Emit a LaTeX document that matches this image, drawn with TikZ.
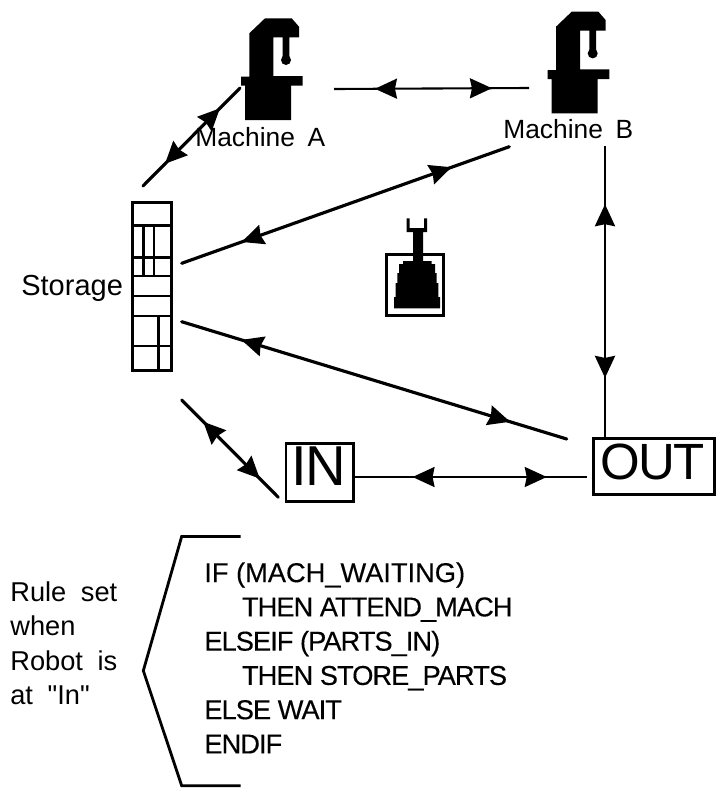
\documentclass[tikz,border=0pt]{standalone}
\usepackage{fontspec}
\setmainfont[Ligatures=TeXOff]{Liberation Sans}
\newfontfamily\rulefont[LetterSpace=-3.5,FakeBold=0.3]{Liberation Sans}
\newfontfamily\rulefontwide[FakeBold=0.3]{Liberation Sans}
\usetikzlibrary{arrows.meta,decorations.markings}
\tikzset{
  head/.tip={Stealth[length=4.4mm,width=4mm,inset=0.4mm]},
  twoway/.style 2 args={postaction={decorate,decoration={markings,
      mark=at position #1 with {\arrowreversed{head}},
      mark=at position #2 with {\arrow{head}}}}},
  link/.style={line width=1.8pt,line cap=round},
  thinlink/.style={line width=1.2pt},
  lab/.style={inner sep=0pt,anchor=base west,font=\fontsize{15}{19.5}\selectfont},
  framebox/.style={draw,line width=1.5pt,inner sep=0pt,outer sep=0pt,anchor=north west},
  pics/machine/.style={code={
    \fill (24,0) -- (50.7,0) -- (58,8.4) -- (58,19) -- (48.3,19) -- (48.3,38.4) -- (41.7,38.4)
      -- (41.7,19) -- (32.3,19) -- (32.3,57.7) -- (61.7,57.7) -- (61.7,67.4) -- (50,67.4)
      -- (50,101.7) -- (4,101.7) -- (4,67.4) -- (0,67.4) -- (0,58.4) -- (8.3,58.4) -- (8.3,15) -- cycle;
    \fill (45,41.7) circle (5);
  }}
}

\begin{document}
\begin{tikzpicture}[x=0.02cm,y=-0.02cm]
    \useasboundingbox (0,0) rectangle (717,795);

    % machines
    \pic (machA) at (241,18.3) {machine};
    \pic (machB) at (547.7,11.7) {machine};
    \node[lab] (labA) at (195,146.7) {Machine\hspace{3pt} A};
    \node[lab] (labB) at (503,138.3) {Machine\hspace{3pt} B};

    % storage rack
    \node[framebox,minimum width=0.78cm,minimum height=3.36cm] (storage) at (132.7,202.7) {};
    \foreach \y in {225.7,257.7,276,316,346}
      \draw[line width=1.4pt] (132.7,\y) -- (171.7,\y);
    \draw[line width=0.8pt] (132.7,296) -- (171.7,296);
    \foreach \x in {143.3,154}
      \draw[line width=1.4pt] (\x,225.7) -- (\x,276);
    \draw[line width=1.4pt] (158.3,316) -- (158.3,370.7);
    \node[lab,font=\fontsize{16.5}{19.5}\selectfont] (labStore) at (21,295) {Storage};

    % robot
    \node[framebox,minimum width=1.14cm,minimum height=1.22cm] (robot) at (386.7,254.3) {};
    \fill (406.5,218.3) -- (409.5,218.3) -- (409.5,228) -- (424,228) -- (424,218.3) -- (427,218.3)
      -- (427,232) -- (423,232) -- (423,261) -- (431.7,261) -- (431.7,264) -- (435,264) -- (435,273)
      -- (436.7,273) -- (436.7,283) -- (438.3,283) -- (438.3,297) -- (440,297) -- (440,308.3)
      -- (394,308.3) -- (394,297) -- (395.7,297) -- (395.7,283) -- (397.3,283) -- (397.3,273)
      -- (399,273) -- (399,264) -- (403,264) -- (403,261) -- (413,261) -- (413,232)
      -- (406.5,232) -- cycle;

    % stations
    \node[framebox,minimum width=1.35cm,minimum height=1.17cm] (in) at (286,443.3) {};
    \node[inner sep=0pt,anchor=base west,font=\fontsize{32}{32}\selectfont] (inlab) at (291,485) {I\kern-1pt N};
    \node[framebox,minimum width=2.43cm,minimum height=1.12cm] (out) at (593.3,438.3) {};
    \node[inner sep=0pt,anchor=base west,font=\fontsize{29}{29}\selectfont] (outlab) at (600.5,479)
      {O\kern-1.1pt U\kern-1.1pt T};

    % connector ends
    \coordinate (storeA) at (143,186);
    \coordinate (machAs) at (240,88);
    \coordinate (machAe) at (334,89);
    \coordinate (machBw) at (529,88);
    \coordinate (storeB) at (181.7,263.3);
    \coordinate (machBs) at (509.3,146.7);
    \coordinate (storeO) at (181.7,321.7);
    \coordinate (outN) at (566.7,439);
    \coordinate (storeI) at (181.7,400);
    \coordinate (inW) at (278.3,497.3);
    \coordinate (inE) at (354.3,477);
    \coordinate (outW) at (587.3,477);
    \coordinate (machBd) at (605,146);
    \coordinate (outT) at (605,437);

    % transfer paths
    \draw[link,twoway={0.227}{0.794}] (storeA) -- (machAs);
    \draw[thinlink,twoway={0.21}{0.81}] (machAe) -- (machBw);
    \draw[link,twoway={0.183}{0.824}] (storeB) -- (machBs);
    \draw[link,twoway={0.155}{0.853}] (storeO) -- (outN);
    \draw[link,twoway={0.224}{0.81}] (storeI) -- (inW);
    \draw[thinlink,twoway={0.25}{0.826}] (inE) -- (outW);
    \draw[line width=1.6pt,twoway={0.2}{0.797}] (machBd) -- (outT);

    % rule set
    \node[lab,anchor=north west,align=left,font=\fontsize{15.5}{19.5}\selectfont] (ruleLab) at (10,581.5)
      {Rule\hspace{4pt} set\\when\\Robot\hspace{4pt} is\\at\hspace{4pt} "In"};
    \draw[line width=1.6pt] (240.7,536.5) -- (181.7,536.5) -- (143.3,670.7) -- (181.7,785.7) -- (240.7,785.7);
    \node[inner sep=0pt,anchor=north west,align=left,font=\rulefont\fontsize{15.5}{19.5}\selectfont] (rules) at (204,562)
      {{\rulefontwide\fontsize{15.5}{19.5}\selectfont IF (MACH\_WAITING)}\\\hspace*{21.4pt}THEN ATTEND\_MACH\\ELSEIF (PARTS\_IN)\\\hspace*{21.4pt}THEN STORE\_PARTS\\ELSE WAIT\\ENDIF};
\end{tikzpicture}
\end{document}
